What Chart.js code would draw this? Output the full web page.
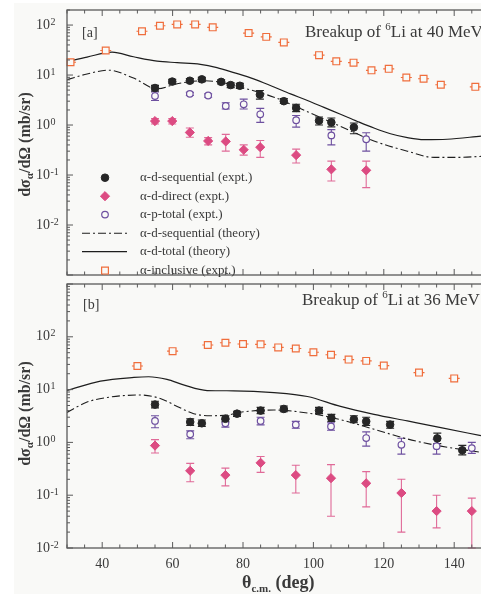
<!DOCTYPE html>
<html><head><meta charset="utf-8">
<script src="https://cdn.jsdelivr.net/npm/chart.js@4/dist/chart.umd.min.js"></script>
<style>
html,body{margin:0;padding:0;background:#fff;overflow:hidden;width:481px;height:594px;position:relative;}
#bg{position:absolute;left:14px;top:3px;width:467px;height:591px;background:#f9f9f7;}
#wa{position:absolute;left:0;top:0;width:500px;height:281px;}
#wb{position:absolute;left:0;top:278px;width:500px;height:316px;}
canvas{display:block}
</style></head><body>
<div id="bg"></div>
<div id="wa"><canvas id="ca" width="500" height="281"></canvas></div>
<div id="wb"><canvas id="cb" width="500" height="316"></canvas></div>
<script>
// ---------------- data ----------------
const xTickValues = [40, 60, 80, 100, 120, 140];
const xTickLabels = ['40', '60', '80', '100', '120', '140'];
const yTickPowers = [-2, -1, 0, 1, 2];
const yTickExpLabels = ['-2', '-1', '0', '1', '2'];
const legendLabels = ['α-d-sequential (expt.)', 'α-d-direct (expt.)', 'α-p-total (expt.)',
                      'α-d-sequential (theory)', 'α-d-total (theory)', 'α-inclusive (expt.)'];
const panelTagA = '[a]';
const panelTagB = '[b]';
const titleA = ['Breakup of ', '6', 'Li at 40 MeV'];
const titleB = ['Breakup of ', '6', 'Li at 36 MeV'];

// Panel a : 40 MeV
const aInclAngle = [31, 41, 51.3, 56.4, 61.3, 66.4, 71.4, 81.6, 86.6, 91.6, 101.6, 106.5, 111.4, 116.5, 121.4, 126.4, 131.3, 136.2, 146];
const aInclVal   = [18, 31, 75, 97, 103, 103, 90, 69, 58, 45, 25, 18.8, 17.7, 12.4, 13.3, 8.9, 8.4, 6.4, 5.8];

const aSeqAngle = [55, 59.9, 64.9, 68.3, 73.8, 76.5, 79.1, 84.8, 91.6, 95.1, 101.6, 105.1, 111.5];
const aSeqVal   = [5.5, 7.4, 7.7, 8.2, 7.3, 6.3, 6.1, 4.05, 3.0, 2.2, 1.22, 1.13, 0.9];
const aSeqLo    = [4.8, 6.7, 7.0, 7.4, 6.6, 5.6, 5.4, 3.3, 2.7, 1.85, 1.0, 0.92, 0.67];
const aSeqHi    = [6.2, 8.2, 8.5, 9.0, 8.0, 7.0, 6.8, 4.9, 3.4, 2.6, 1.45, 1.38, 1.1];

const aPtotAngle = [55, 64.9, 70.1, 75.1, 80.2, 84.9, 95.1, 105.1, 115];
const aPtotVal   = [3.8, 4.2, 3.9, 2.4, 2.6, 1.64, 1.25, 0.62, 0.52];
const aPtotLo    = [3.1, 3.9, 3.6, 2.09, 2.09, 1.13, 0.91, 0.40, 0.30];
const aPtotHi    = [4.6, 4.5, 4.2, 2.8, 3.3, 2.15, 1.55, 0.81, 0.70];

const aDirAngle = [55, 59.9, 64.9, 70.1, 75.1, 80.2, 84.9, 95.1, 105.1, 115];
const aDirVal   = [1.2, 1.2, 0.71, 0.48, 0.47, 0.32, 0.36, 0.25, 0.13, 0.124];
const aDirLo    = [1.05, 1.05, 0.57, 0.40, 0.30, 0.25, 0.225, 0.174, 0.076, 0.056];
const aDirHi    = [1.35, 1.35, 0.87, 0.56, 0.65, 0.40, 0.49, 0.33, 0.19, 0.19];

const aTotThAngle = [30, 35.7, 42.8, 48.9, 55.6, 61.3, 67.9, 72.6, 77.4, 83, 88.8, 93.5, 98.3, 103, 107.7, 112.5, 117.2, 121.9, 126.7, 131.4, 138, 147.6];
const aTotThVal   = [18.5, 22.9, 28.6, 23.2, 19, 17.7, 16.4, 14.1, 11.2, 8.4, 5.75, 4.2, 3.1, 2.25, 1.64, 1.18, 0.87, 0.67, 0.56, 0.51, 0.52, 0.6];

const aSeqThAngle = [30, 35.7, 41.8, 48.9, 55.6, 61.3, 68.8, 73.6, 80.2, 88.8, 98.3, 107.7, 117.2, 126.7, 134.3, 141, 147.6];
const aSeqThVal   = [8.1, 10.5, 12.5, 8.7, 5.3, 6.7, 7.7, 7.2, 5.5, 3.6, 1.85, 0.94, 0.48, 0.30, 0.225, 0.225, 0.236];

// Panel b : 36 MeV
const bInclAngle = [50, 60, 70, 75, 80, 85, 90, 95, 100, 105, 110, 115, 120, 130, 140];
const bInclVal   = [28, 53.5, 70, 77, 73, 72, 63, 60, 51, 45.6, 37, 35, 28.5, 21, 16.3];

const bSeqAngle = [55, 65, 68.3, 75, 78.3, 85, 91.6, 101.6, 105.1, 111.5, 115, 121.8, 135.2, 142.3];
const bSeqVal   = [5.2, 2.44, 2.3, 2.8, 3.5, 4.0, 4.3, 4.0, 2.9, 2.73, 2.5, 2.17, 1.19, 0.71];
const bSeqLo    = [4.5, 2.1, 2.0, 2.45, 3.1, 3.5, 3.8, 3.5, 2.5, 2.35, 2.1, 1.85, 0.95, 0.58];
const bSeqHi    = [6.0, 2.8, 2.65, 3.2, 3.9, 4.6, 4.9, 4.6, 3.4, 3.2, 3.0, 2.5, 1.5, 0.88];

const bPtotAngle = [55, 65, 75, 85, 95, 105, 115, 125, 135, 145];
const bPtotVal   = [2.55, 1.43, 2.3, 2.55, 2.17, 2.0, 1.21, 0.9, 0.85, 0.78];
const bPtotLo    = [1.9, 1.17, 1.95, 2.15, 1.85, 1.7, 0.85, 0.6, 0.6, 0.62];
const bPtotHi    = [3.2, 1.65, 2.7, 3.0, 2.5, 2.35, 1.58, 1.2, 1.15, 1.0];

const bDirAngle = [55, 65, 75, 85, 95, 105, 115, 125, 135, 145];
const bDirVal   = [0.87, 0.29, 0.24, 0.41, 0.24, 0.21, 0.168, 0.11, 0.05, 0.05];
const bDirLo    = [0.63, 0.18, 0.15, 0.27, 0.11, 0.04, 0.06, 0.02, 0.024, 0.01];
const bDirHi    = [1.13, 0.40, 0.325, 0.54, 0.37, 0.38, 0.28, 0.2, 0.1, 0.088];

const bTotThAngle = [30, 39.5, 49, 53.2, 58.4, 63.1, 69.8, 77.3, 88.8, 98.3, 107.7, 117.2, 126.7, 136.2, 147.6];
const bTotThVal   = [9.6, 14.5, 17, 17.5, 15.6, 12.3, 9.6, 9.5, 8.8, 7.4, 4.8, 3.4, 2.55, 1.91, 1.34];

const bSeqThAngle = [30, 35.7, 41.4, 50.8, 56.5, 61.3, 66, 70.7, 75.5, 80.2, 88.8, 98.3, 107.7, 117.2, 126.7, 136.2, 147.6];
const bSeqThVal   = [3.7, 5.8, 7.1, 7.9, 6.8, 4.8, 3.5, 3.2, 3.3, 3.8, 4.1, 3.6, 2.7, 1.78, 1.16, 0.85, 0.65];

// ---------------- styling ----------------
const SERIF = "'Liberation Serif','Times New Roman',Times,serif";
const TXT = '#3a3a3a';
const AXC = '#5a5a5a';
const BG = '#f9f9f7';
const C_SEQ = '#262626';
const C_DIR = '#dc4b82';
const C_DIR_ERR = '#e06a98';
const C_PT = '#6e50a0';
const C_INC = '#f06e3c';

const pts = (xs, ys) => xs.map((x, i) => ({ x: x, y: ys[i] }));

function styleSeq(){ return { pointStyle:'circle', pointRadius:3.8, backgroundColor:C_SEQ, borderColor:C_SEQ, borderWidth:1 }; }
function styleDir(){ return { pointStyle:'rectRot', pointRadius:4.6, backgroundColor:C_DIR, borderColor:C_DIR, borderWidth:1 }; }
function stylePt(){ return { pointStyle:'circle', pointRadius:3.3, backgroundColor:BG, borderColor:C_PT, borderWidth:1.2 }; }
function styleInc(){ return { pointStyle:'rect', pointRadius:4.8, backgroundColor:BG, borderColor:C_INC, borderWidth:1.2 }; }
const DASHDOT = [8, 3, 2, 3];

function buildDatasets(p) {
  return [
    Object.assign({ label:legendLabels[5], data: pts(p.incA, p.incV), whisker:true, errColor:C_INC, order:1, clip:8 }, styleInc()),
    Object.assign({ label:legendLabels[2], data: pts(p.ptA, p.ptV), errLo:p.ptLo, errHi:p.ptHi, errColor:C_PT, order:1, clip:8 }, stylePt()),
    Object.assign({ label:legendLabels[1], data: pts(p.dirA, p.dirV), errLo:p.dirLo, errHi:p.dirHi, errColor:C_DIR_ERR, order:1, clip:8 }, styleDir()),
    Object.assign({ label:legendLabels[0], data: pts(p.seqA, p.seqV), errLo:p.seqLo, errHi:p.seqHi, errColor:C_SEQ, order:0, clip:8 }, styleSeq()),
    { type:'line', label:legendLabels[4], data: pts(p.totThA, p.totThV), showLine:true, borderColor:'#1e1e1e', borderWidth:1.2,
      pointRadius:0, fill:false, cubicInterpolationMode:'monotone', order:5 },
    { type:'line', label:legendLabels[3], data: pts(p.seqThA, p.seqThV), showLine:true, borderColor:'#1e1e1e', borderWidth:1.1,
      borderDash:DASHDOT, pointRadius:0, fill:false, cubicInterpolationMode:'monotone', order:5 }
  ];
}

function drawSegs(ctx, segs, x, y, center) {
  let total = 0;
  segs.forEach(s => { ctx.font = s.font; s.w = ctx.measureText(s.t).width; total += s.w; });
  let cx = center ? x - total / 2 : x;
  ctx.textAlign = 'left';
  ctx.textBaseline = 'alphabetic';
  segs.forEach(s => { ctx.font = s.font; ctx.fillText(s.t, cx, y + (s.dy || 0)); cx += s.w; });
}

function line(ctx, x1, y1, x2, y2) { ctx.beginPath(); ctx.moveTo(x1, y1); ctx.lineTo(x2, y2); ctx.stroke(); }

function decor(cfg) {
  return {
    id: 'decor',
    beforeDatasetsDraw(chart) {
      const ctx = chart.ctx, xs = chart.scales.x, ys = chart.scales.y, ca = chart.chartArea;
      ctx.save();
      ctx.beginPath(); ctx.rect(ca.left, ca.top, ca.right - ca.left, ca.bottom - ca.top + 1); ctx.clip();
      chart.data.datasets.forEach(ds => {
        if (ds.errLo) {
          ctx.strokeStyle = ds.errColor; ctx.lineWidth = 1.1;
          ds.data.forEach((p, i) => {
            const x = xs.getPixelForValue(p.x);
            const y1 = ys.getPixelForValue(ds.errLo[i]), y2 = ys.getPixelForValue(ds.errHi[i]);
            ctx.beginPath();
            ctx.moveTo(x, y1); ctx.lineTo(x, y2);
            ctx.moveTo(x - 4, y1); ctx.lineTo(x + 4, y1);
            ctx.moveTo(x - 4, y2); ctx.lineTo(x + 4, y2);
            ctx.stroke();
          });
        }
        if (ds.whisker) {
          ctx.strokeStyle = ds.errColor; ctx.lineWidth = 1.1;
          ds.data.forEach(p => {
            const x = xs.getPixelForValue(p.x), y = ys.getPixelForValue(p.y);
            line(ctx, x - 5.5, y, x + 5.5, y);
          });
        }
      });
      ctx.restore();
    },
    afterDraw(chart) {
      const ctx = chart.ctx, xs = chart.scales.x, ys = chart.scales.y, ca = chart.chartArea;
      ctx.save();
      // frame
      ctx.strokeStyle = AXC; ctx.lineWidth = 1.3;
      ctx.strokeRect(ca.left, ca.top, ca.right - ca.left, ca.bottom - ca.top);
      // inside ticks x
      ctx.lineWidth = 1;
      for (let t = 30; t <= 150; t += 5) {
        const x = xs.getPixelForValue(t);
        const L = (t % 20 === 0) ? 6 : 3.5;
        line(ctx, x, ca.bottom, x, ca.bottom - L);
        line(ctx, x, ca.top, x, ca.top + L);
      }
      // inside ticks y (log)
      const e0 = Math.round(Math.log10(ys.min)), e1 = Math.round(Math.log10(ys.max));
      for (let e = e0; e <= e1; e++) {
        for (let k = 1; k <= 9; k++) {
          const v = k * Math.pow(10, e);
          if (v < ys.min * 0.999 || v > ys.max * 1.001) continue;
          const y = ys.getPixelForValue(v);
          const L = k === 1 ? 6 : 3;
          line(ctx, ca.left, y, ca.left + L, y);
          line(ctx, ca.right, y, ca.right - L, y);
        }
      }
      // y tick labels 10^n
      ctx.fillStyle = TXT;
      yTickPowers.forEach((pw, i) => {
        const v = Math.pow(10, pw);
        if (v < ys.min || v > ys.max) return;
        const y = ys.getPixelForValue(v);
        ctx.font = '14px ' + SERIF; ctx.textAlign = 'left'; ctx.textBaseline = 'middle';
        ctx.fillText('10', 36, y);
        const w = ctx.measureText('10').width;
        ctx.font = '10px ' + SERIF;
        ctx.fillText(yTickExpLabels[i], 36 + w + 0.5, y - 3);
      });
      // y axis title
      ctx.save();
      ctx.translate(29.5, cfg.yTitleCenter);
      ctx.rotate(-Math.PI / 2);
      drawSegs(ctx, [
        { t: 'dσ', font: 'bold 16px ' + SERIF },
        { t: 'α', font: 'bold 11px ' + SERIF, dy: 3.5 },
        { t: '/dΩ (mb/sr)', font: 'bold 16px ' + SERIF }
      ], 0, 0, true);
      ctx.restore();
      // panel tag and title
      ctx.font = '14px ' + SERIF; ctx.textAlign = 'left'; ctx.textBaseline = 'alphabetic';
      ctx.fillText(cfg.tag, cfg.tagX, cfg.tagY);
      drawSegs(ctx, [
        { t: cfg.title[0], font: '17px ' + SERIF },
        { t: cfg.title[1], font: '11px ' + SERIF, dy: -7 },
        { t: cfg.title[2], font: '17px ' + SERIF }
      ], cfg.titleX, cfg.titleY, false);
      // x axis title
      if (cfg.xTitle) {
        drawSegs(ctx, [
          { t: 'θ', font: 'bold 18px ' + SERIF },
          { t: 'c.m.', font: 'bold 11px ' + SERIF, dy: 4 },
          { t: ' (deg)', font: 'bold 18px ' + SERIF }
        ], (ca.left + ca.right) / 2, cfg.xTitleY, true);
      }
      // legend
      if (cfg.legend) {
        const ds = chart.data.datasets;
        const rows = [ds[3], ds[2], ds[1], ds[5], ds[4], ds[0]];
        const ys0 = [177.7, 196.2, 214.6, 233.2, 251.7, 270.6];
        rows.forEach((d, i) => {
          const y = ys0[i];
          if (d.type === 'line') {
            ctx.strokeStyle = d.borderColor; ctx.lineWidth = d.borderWidth;
            ctx.setLineDash(d.borderDash || []);
            line(ctx, 82, y, 127, y);
            ctx.setLineDash([]);
          } else {
            ctx.fillStyle = d.backgroundColor; ctx.strokeStyle = d.borderColor;
            ctx.lineWidth = d.borderWidth;
            Chart.helpers.drawPoint(ctx, { pointStyle: d.pointStyle, radius: d.pointRadius, borderWidth: d.borderWidth, rotation: 0 }, 105, y);
          }
          ctx.fillStyle = TXT; ctx.font = '13px ' + SERIF; ctx.textAlign = 'left'; ctx.textBaseline = 'middle';
          ctx.fillText(legendLabels[i], 140, y);
        });
      }
      ctx.restore();
    }
  };
}

function makeChart(canvas, datasets, yMin, yMax, showX, xAxisH, padTop, cfg) {
  return new Chart(canvas, {
    type: 'scatter',
    data: { datasets },
    options: {
      responsive: false, animation: false, devicePixelRatio: 1,
      layout: { padding: { top: padTop, right: 10.6, left: 0, bottom: 0 } },
      plugins: { legend: { display: false }, tooltip: { enabled: false }, title: { display: false } },
      scales: {
        x: {
          type: 'linear', min: 30, max: 150, position: 'bottom',
          grid: { display: false, drawTicks: false }, border: { display: false },
          ticks: {
            display: showX, autoSkip: false, maxRotation: 0, padding: 8, color: TXT,
            font: { family: SERIF, size: 14 },
            callback: (v) => { const i = xTickValues.indexOf(v); return i >= 0 ? xTickLabels[i] : ''; }
          },
          afterBuildTicks: (s) => { s.ticks = xTickValues.map(v => ({ value: v })); },
          afterFit: (s) => { s.height = xAxisH; }
        },
        y: {
          type: 'logarithmic', min: yMin, max: yMax, position: 'left',
          grid: { display: false, drawTicks: false }, border: { display: false },
          ticks: { display: false },
          afterFit: (s) => { s.width = 67; }
        }
      }
    },
    plugins: [decor(cfg)]
  });
}

const dsA = buildDatasets({
  incA: aInclAngle, incV: aInclVal,
  seqA: aSeqAngle, seqV: aSeqVal, seqLo: aSeqLo, seqHi: aSeqHi,
  ptA: aPtotAngle, ptV: aPtotVal, ptLo: aPtotLo, ptHi: aPtotHi,
  dirA: aDirAngle, dirV: aDirVal, dirLo: aDirLo, dirHi: aDirHi,
  totThA: aTotThAngle, totThV: aTotThVal, seqThA: aSeqThAngle, seqThV: aSeqThVal
});
const dsB = buildDatasets({
  incA: bInclAngle, incV: bInclVal,
  seqA: bSeqAngle, seqV: bSeqVal, seqLo: bSeqLo, seqHi: bSeqHi,
  ptA: bPtotAngle, ptV: bPtotVal, ptLo: bPtotLo, ptHi: bPtotHi,
  dirA: bDirAngle, dirV: bDirVal, dirLo: bDirLo, dirHi: bDirHi,
  totThA: bTotThAngle, totThV: bTotThVal, seqThA: bSeqThAngle, seqThV: bSeqThVal
});

makeChart(document.getElementById('ca'), dsA, 1e-3, 200, false, 2, 10, {
  yTitleCenter: 144.5, tag: panelTagA, tagX: 82, tagY: 36.5,
  title: titleA, titleX: 305, titleY: 37.3, legend: true, xTitle: false
});
makeChart(document.getElementById('cb'), dsB, 1e-2, 1e3, true, 46, 1, {
  yTitleCenter: 135.5, tag: panelTagB, tagX: 83, tagY: 30.5,
  title: titleB, titleX: 302, titleY: 27, legend: false, xTitle: true, xTitleY: 310
});
</script>
</body></html>
